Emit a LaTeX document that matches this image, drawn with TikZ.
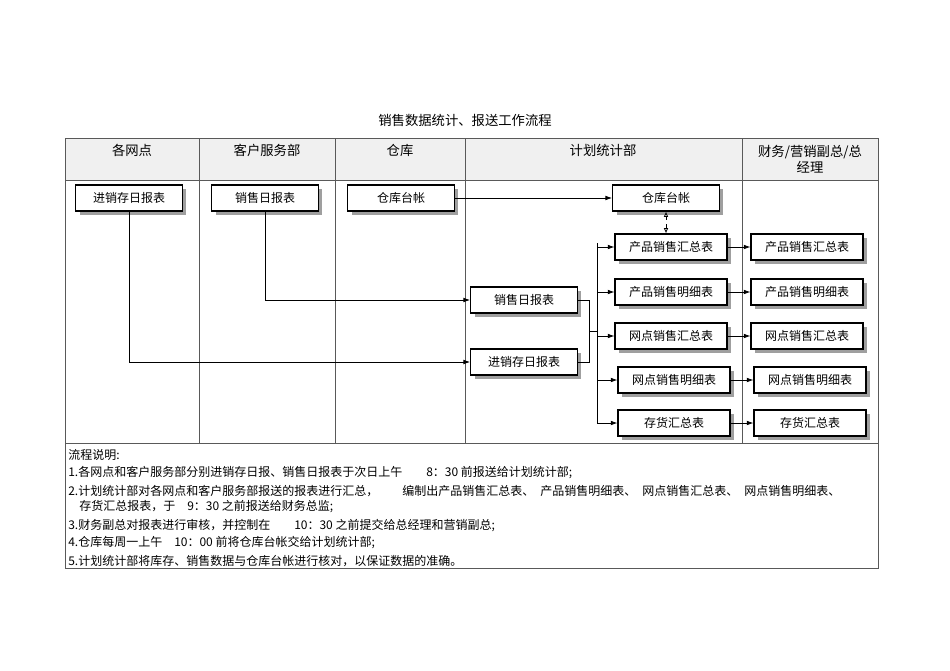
\documentclass[tikz,border=0pt]{standalone}
\usepackage{fontspec}
\setmainfont{Noto Sans CJK SC}
\usetikzlibrary{shadows,arrows.meta}
\begin{document}
\begin{tikzpicture}[x=0.75pt,y=-0.75pt,
  bx/.style={draw=black,fill=white,line width=0.8pt,inner sep=0pt,minimum height=19.5pt,font=\fontsize{9}{10}\selectfont,
    drop shadow={shadow xshift=3pt,shadow yshift=-3pt,fill=gray!75,opacity=1}},
  w1/.style={minimum width=80pt},
  w2/.style={minimum width=84pt},
  ln/.style={line width=0.6pt},
  ar/.style={ln,-{Latex[length=5pt,width=3.5pt]}},
  hd/.style={font=\fontsize{10}{12}\selectfont}]
\useasboundingbox (0,0) rectangle (950,671);
\fill[gray!12] (65,138) rectangle (878,180);
\draw[gray!70!black,line width=0.6pt] (65,138) rectangle (878,568);
\draw[gray!70!black,line width=0.6pt] (65,180) -- (878,180) (65,443) -- (878,443);
\foreach \x in {199,335,465,742} \draw[gray!70!black,line width=0.6pt] (\x,138) -- (\x,443);
\node[hd] (title) at (465,120) {销售数据统计、报送工作流程};
\node[hd] (h1) at (132,150) {各网点};
\node[hd] (h2) at (267,150) {客户服务部};
\node[hd] (h3) at (400,150) {仓库};
\node[hd] (h4) at (603,150) {计划统计部};
\node[hd,align=center] (h5) at (810,159) {财务/营销副总/总\\经理};
\node[bx,w1] (a) at (129,198) {进销存日报表};
\node[bx,w1] (b) at (265,198) {销售日报表};
\node[bx,w1] (c) at (401,198) {仓库台帐};
\node[bx,w1] (d) at (666,198) {仓库台帐};
\node[bx,w1] (s) at (524,300) {销售日报表};
\node[bx,w1] (j) at (524,362) {进销存日报表};
\node[bx,w2] (p1) at (671,247) {产品销售汇总表};
\node[bx,w2] (p2) at (671,292) {产品销售明细表};
\node[bx,w2] (p3) at (671,336) {网点销售汇总表};
\node[bx,w2] (p4) at (674,380) {网点销售明细表};
\node[bx,w2] (p5) at (674,423) {存货汇总表};
\node[bx,w2] (q1) at (807,247) {产品销售汇总表};
\node[bx,w2] (q2) at (807,292) {产品销售明细表};
\node[bx,w2] (q3) at (807,336) {网点销售汇总表};
\node[bx,w2] (q4) at (810,380) {网点销售明细表};
\node[bx,w2] (q5) at (810,423) {存货汇总表};
\draw[ar] (a.south) |- (j.west);
\draw[ar] (b.south) |- (s.west);
\draw[ar] (c.east) -- (d.west);
\draw[ln,dashed,{Latex[length=4pt,width=3.5pt,open]}-{Latex[length=4pt,width=3.5pt,open]}] (d.south) -- (d.south|-p1.north);
\coordinate (k1) at (589,300);
\coordinate (k2) at (589,362);
\coordinate (km) at (589,331);
\coordinate (tt) at (597,243);
\coordinate (tb) at (597,423);
\draw[ln] (s.east) -- (k1) -- (k2) -- (j.east);
\draw[ln] (km) -- (km-|tt);
\draw[ln] (tt) -- (tb);
\foreach \n in {p1,p2,p3,p4,p5} \draw[ar] (tt|-\n.west) -- (\n.west);
\foreach \n/\m in {p1/q1,p2/q2,p3/q3,p4/q4,p5/q5} \draw[ar] (\n.east) -- (\m.west);
\begin{scope}[every node/.style={anchor=west,inner sep=0pt,font=\fontsize{9}{10}\selectfont}]
\node (n0) at (68,455) {流程说明:};
\node (n1) at (68,473) {1.各网点和客户服务部分别进销存日报、销售日报表于次日上午\hspace{2em}8：30 前报送给计划统计部;};
\node (n2) at (68,491) {2.计划统计部对各网点和客户服务部报送的报表进行汇总，\hspace{2em}编制出产品销售汇总表、\hspace{0.5em}产品销售明细表、\hspace{0.5em}网点销售汇总表、\hspace{0.5em}网点销售明细表、};
\node (n2b) at (79,507) {存货汇总报表，于\hspace{1em}9：30 之前报送给财务总监;};
\node (n3) at (68,526) {3.财务副总对报表进行审核，并控制在\hspace{2em}10：30 之前提交给总经理和营销副总;};
\node (n4) at (68,543) {4.仓库每周一上午\hspace{1em}10：00 前将仓库台帐交给计划统计部;};
\node (n5) at (68,561) {5.计划统计部将库存、销售数据与仓库台帐进行核对，以保证数据的准确。};
\end{scope}
\end{tikzpicture}
\end{document}
